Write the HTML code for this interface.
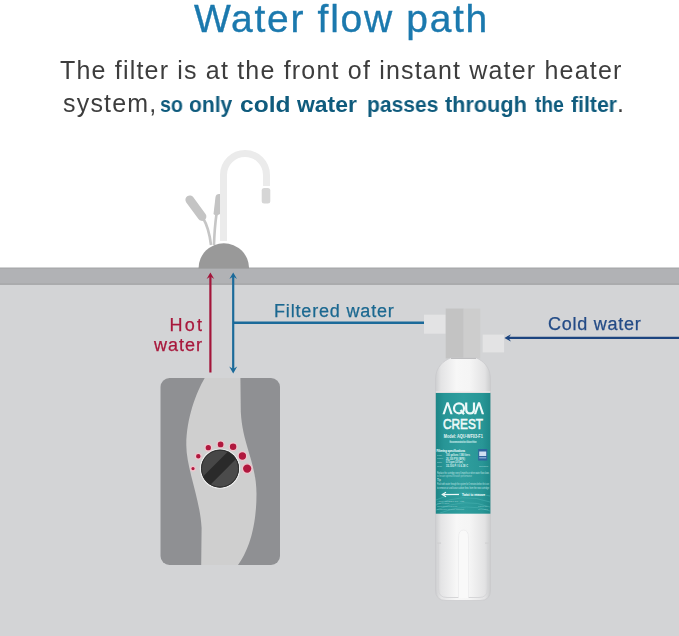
<!DOCTYPE html>
<html><head><meta charset="utf-8">
<style>
html,body{margin:0;padding:0;}
body{width:679px;height:636px;position:relative;overflow:hidden;background:#fff;font-family:"Liberation Sans",sans-serif;}
.t{position:absolute;white-space:nowrap;line-height:1;will-change:transform;}
#title{left:2px;width:679px;text-align:center;top:-1px;font-size:39px;color:#1b79ae;letter-spacing:1.7px;-webkit-text-stroke:0.35px #1b79ae;}
#l1{left:60px;top:58px;font-size:25px;color:#3d3d3d;letter-spacing:1.19px;}
#l2{left:63px;top:91px;font-size:25px;color:#3d3d3d;letter-spacing:1.19px;}
.bw{top:93.5px;font-size:22px;font-weight:bold;color:#0f5b7d;transform-origin:0 0;}
#l2p{left:617px;top:91px;font-size:25px;color:#3d3d3d;}
svg{position:absolute;left:0;top:0;}
.lab{font-size:18px;-webkit-text-stroke:0.25px currentColor;}
</style></head><body>
<svg width="679" height="636" viewBox="0 0 679 636">
  <rect x="0" y="268" width="679" height="17" fill="#b1b2b5"/>
  <rect x="0" y="267.5" width="679" height="1.2" fill="#a6a7a9"/>
  <rect x="0" y="283" width="679" height="2" fill="#aaabad"/>
  <rect x="0" y="285" width="679" height="351" fill="#d3d4d6"/>
  <!-- faucet spout -->
  <path d="M223.5 241 V175 A21.5 21.5 0 0 1 266.5 175 V186" fill="none" stroke="#ebebeb" stroke-width="7"/>
  <rect x="261.7" y="188" width="8.6" height="15.6" rx="2.5" fill="#d6d6d6"/>
  <!-- levers -->
  <path d="M203 218 Q209 228 211 245" fill="none" stroke="#c6c6c6" stroke-width="2.6"/>
  <path d="M189.8 199.8 L202 216.5" fill="none" stroke="#c4c4c4" stroke-width="8.8" stroke-linecap="round"/>
  <path d="M216.5 214 Q214.5 228 214 245" fill="none" stroke="#c6c6c6" stroke-width="2.6"/>
  <path d="M215.5 197 Q216 194 219 194 L220 194 L220 214 L216 216 L213.5 214 Z" fill="#c4c4c4"/>
  <!-- dome -->
  <path d="M198.5 268.5 A25.3 25.3 0 0 1 249.1 268.5 Z" fill="#999999"/>
  <!-- heater -->
  <rect x="160.5" y="378" width="119.5" height="187" rx="9" fill="#8f9093"/>
  <path d="M204.7 378 C196 393 186.5 418 186.3 445 C186.2 468 200 498 201.6 528 L201.2 565 L238 565 C247 553 256.5 530 256.5 494 C256.4 462 242.5 445 240.8 412 L240.4 378 Z" fill="#cfcfcf"/>
  <!-- knob -->
  <circle cx="220" cy="468.6" r="20.2" fill="#ececec"/>
  <clipPath id="kc"><circle cx="220" cy="468.6" r="18.9"/></clipPath>
  <g clip-path="url(#kc)">
    <rect x="200" y="448" width="40" height="42" fill="#474747"/>
    <path d="M184 511.1 L260 435.1 L270 440 L270 520 L184 520 Z" fill="#4b4b4b"/>
    <path d="M180 499.5 L256 423.5 L264 431.1 L188 507.1 Z" fill="#2a2a2a"/>
  </g>
  <circle cx="220" cy="468.6" r="18.5" fill="none" stroke="#2c2c2c" stroke-width="1"/>
  <!-- red dots -->
  <g fill="#b0183e" stroke="#f0c6ce" stroke-width="1.3">
    <circle cx="193" cy="468.6" r="2.3"/>
    <circle cx="198.3" cy="456.2" r="2.9"/>
    <circle cx="208.3" cy="447.7" r="3.3"/>
    <circle cx="220.6" cy="444.4" r="3.5"/>
    <circle cx="233.1" cy="446.8" r="3.9"/>
    <circle cx="242.4" cy="456" r="4.3"/>
    <circle cx="247.2" cy="468.6" r="4.8"/>
  </g>
  <!-- arrows -->
  <g stroke="#a3153a" fill="#a3153a">
    <line x1="210.4" y1="276" x2="210.4" y2="372.5" stroke-width="2.2"/>
    <path d="M206.6 279 L210.4 272.4 L214.2 279 L210.4 276.6 Z" stroke="none"/>
  </g>
  <g stroke="#1b6a9a" fill="#1b6a9a">
    <line x1="233.2" y1="276" x2="233.2" y2="369" stroke-width="2.2"/>
    <path d="M229.4 279 L233.2 272.4 L237 279 L233.2 276.6 Z" stroke="none"/>
    <path d="M229.2 366.5 L233.2 373.5 L237.2 366.5 L233.2 369 Z" stroke="none"/>
    <line x1="233.2" y1="322.8" x2="424" y2="322.8" stroke-width="2.4"/>
  </g>
  <g stroke="#1c447f" fill="#1c447f">
    <line x1="507" y1="337.9" x2="679" y2="337.9" stroke-width="2.1"/>
    <path d="M511 334.2 L504.4 337.9 L511 341.6 L508.6 337.9 Z" stroke="none"/>
  </g>
  <!-- filter head -->
  <rect x="424" y="314.7" width="21.7" height="19" fill="#e3e3e4"/>
  <rect x="482.7" y="334.6" width="21.4" height="17.8" fill="#e3e3e4"/>
  <rect x="445.7" y="308.5" width="18" height="50" fill="#c3c3c3"/>
  <rect x="463.7" y="308.5" width="16.6" height="50" fill="#cdcdcd"/>
  <defs>
    <linearGradient id="wb" x1="0" x2="1" y1="0" y2="0">
      <stop offset="0" stop-color="#cdced0"/>
      <stop offset="0.1" stop-color="#e4e4e5"/>
      <stop offset="0.38" stop-color="#f7f7f7"/>
      <stop offset="0.62" stop-color="#f5f5f5"/>
      <stop offset="0.9" stop-color="#e2e2e3"/>
      <stop offset="1" stop-color="#cbcccd"/>
    </linearGradient>
    <linearGradient id="tl" x1="0" x2="1" y1="0" y2="0">
      <stop offset="0" stop-color="#1d8586"/>
      <stop offset="0.15" stop-color="#279596"/>
      <stop offset="0.5" stop-color="#2f9e9e"/>
      <stop offset="0.85" stop-color="#289696"/>
      <stop offset="1" stop-color="#1e8788"/>
    </linearGradient>
  </defs>
  <path d="M450.5 358 L476.5 358 C482.5 360.5 490.5 367 490.5 379 L490.5 590 Q490.5 600.5 480 600.5 L446 600.5 Q435.5 600.5 435.5 590 L435.5 379 C435.5 367 444 360.5 450.5 358 Z" fill="url(#wb)" stroke="#c8c9cb" stroke-width="0.7"/>
  <path d="M451 358.5 L476 358.5" stroke="#bdbdbf" stroke-width="1"/>
  <!-- inner bottom outline & channel -->
  <path d="M438.5 543 L438.5 589 Q438.5 597.5 447 597.5 L479 597.5 Q487.5 597.5 487.5 589 L487.5 543" fill="none" stroke="#d6d6d8" stroke-width="1"/>
  <path d="M458.5 598 L458.5 538 Q458.5 530 463.5 530 Q468.5 530 468.5 538 L468.5 598" fill="#f9f9f9" stroke="#eaeaeb" stroke-width="0.7"/>
  <rect x="437" y="542.5" width="4" height="1.2" fill="#d0d0d2"/>
  <rect x="485" y="542.5" width="4" height="1.2" fill="#d0d0d2"/>
  <!-- label -->
  <rect x="435.8" y="392.7" width="54.6" height="121" fill="url(#tl)"/>
  <rect x="435.8" y="391.5" width="54.6" height="1.2" fill="#f4e6e6"/>
  <g fill="none" stroke="#49b3b2" stroke-width="0.8" opacity="0.7">
    <path d="M436 500 Q460 488 490 496"/>
    <path d="M436 505 Q462 492 490 502"/>
    <path d="M436 510 Q465 497 490 507"/>
    <path d="M440 513 Q468 502 490 511"/>
  </g>
  <!-- AQUA logo -->
  <g fill="none" stroke="#eef9f9" stroke-width="2.2" stroke-linejoin="miter">
    
    <circle cx="459" cy="408.3" r="5"/>
    <path d="M460.5 410 L464 414.3"/>
    <path d="M466.2 402.4 L466.2 409.2 Q466.2 413.4 470.1 413.4 Q474 413.4 474 409.2 L474 402.4"/>
    
  </g>
  <path d="M442.5 414.2 L446.6 402.3 L448.6 402.3 L452.7 414.2 L450.4 414.2 L447.6 405.6 L444.8 414.2 Z M473.9 414.2 L478 402.3 L480 402.3 L484.1 414.2 L481.8 414.2 L479 405.6 L476.2 414.2 Z" fill="#eef9f9"/>
  <text x="443" y="428.5" font-family="Liberation Sans" font-size="15" fill="#eef9f9" stroke="#eef9f9" stroke-width="0.6" textLength="40" lengthAdjust="spacingAndGlyphs">CREST</text>
  <text x="443.8" y="438.3" font-family="Liberation Sans" font-weight="bold" font-size="5" fill="#e6f6f6" textLength="39" lengthAdjust="spacingAndGlyphs">Model: AQU-WF03-F1</text>
  <rect x="449.6" y="441.3" width="27" height="1.4" fill="#8fd0d0" opacity="0.8"/>
  <g font-family="Liberation Sans" fill="#dff2f2">
    <text x="449.6" y="443" font-size="2.6" textLength="27" lengthAdjust="spacingAndGlyphs" opacity="0.8">Recommended for Water Filter</text>
    <text x="436.5" y="452.2" font-size="4.3" font-weight="bold" stroke="#dff2f2" stroke-width="0.15" textLength="28.5" lengthAdjust="spacingAndGlyphs">Filtering specifications</text>
    <text x="437" y="455.6" font-size="2.4" textLength="5" lengthAdjust="spacingAndGlyphs" opacity="0.7">Life</text>
    <text x="446" y="455.8" font-size="3.1" font-weight="bold" textLength="24" lengthAdjust="spacingAndGlyphs">100 gallons / 380 liters</text>
    <text x="437" y="459.3" font-size="2.4" textLength="6" lengthAdjust="spacingAndGlyphs" opacity="0.7">Pressure</text>
    <text x="446" y="459.5" font-size="3.1" font-weight="bold" textLength="19" lengthAdjust="spacingAndGlyphs">20-100 PSI (BFS)</text>
    <text x="437" y="463" font-size="2.4" textLength="5" lengthAdjust="spacingAndGlyphs" opacity="0.7">Rate</text>
    <text x="446" y="463.2" font-size="3.1" font-weight="bold" textLength="17" lengthAdjust="spacingAndGlyphs">0.75 gpm (2.8 lpm)</text>
    <text x="437" y="466.7" font-size="2.4" textLength="5" lengthAdjust="spacingAndGlyphs" opacity="0.7">Temp</text>
    <text x="446" y="466.9" font-size="3.1" font-weight="bold" textLength="22" lengthAdjust="spacingAndGlyphs">33-100 F / 0.6-38 C</text>
    <text x="479" y="466.8" font-size="2.4" textLength="9" lengthAdjust="spacingAndGlyphs" opacity="0.7">Replaces</text>
    <text x="437" y="473.7" font-size="2.8" textLength="52" lengthAdjust="spacingAndGlyphs" opacity="0.85">Replace the cartridge every 6 months or when water flow slows</text>
    <text x="437" y="477.4" font-size="2.6" textLength="35" lengthAdjust="spacingAndGlyphs" opacity="0.65">to ensure optimal filtration performance</text>
    <text x="437" y="481.3" font-size="2.6" font-weight="bold" textLength="4" lengthAdjust="spacingAndGlyphs" opacity="0.75">Tip</text>
    <text x="437" y="485.1" font-size="2.8" textLength="52" lengthAdjust="spacingAndGlyphs" opacity="0.85">Flush with water through the system for 5 minutes before first use</text>
    <text x="437" y="488.6" font-size="2.8" textLength="52" lengthAdjust="spacingAndGlyphs" opacity="0.85">to remove air and loose carbon fines from the new cartridge</text>
    <text x="462" y="496.2" font-size="3.9" font-weight="bold" stroke="#dff2f2" stroke-width="0.15" textLength="23" lengthAdjust="spacingAndGlyphs">Twist to remove</text>
    <text x="437" y="501.8" font-size="2.3" textLength="27" lengthAdjust="spacingAndGlyphs" opacity="0.6">AQUACREST Co., Ltd</text>
    <text x="437" y="504.4" font-size="2.2" textLength="12" lengthAdjust="spacingAndGlyphs" opacity="0.55">Made in China</text>
    <text x="437" y="507" font-size="2.2" textLength="20" lengthAdjust="spacingAndGlyphs" opacity="0.55">www.aquacrest.com</text>
    <text x="437" y="509.8" font-size="2.2" textLength="27" lengthAdjust="spacingAndGlyphs" opacity="0.55">Customer service support</text>
    <text x="478" y="507" font-size="2.2" textLength="10" lengthAdjust="spacingAndGlyphs" opacity="0.5">Patent No.</text>
    <text x="478" y="509.8" font-size="2.2" textLength="10" lengthAdjust="spacingAndGlyphs" opacity="0.5">IPX4 rated</text>
  </g>
  <path d="M459 494.5 L443.5 494.5" stroke="#eef8f8" stroke-width="1.2"/>
  <path d="M446 492.3 L442.3 494.5 L446 496.7" fill="none" stroke="#eef8f8" stroke-width="1.2"/>
  <!-- badge -->
  <rect x="478.2" y="449" width="9" height="11.5" fill="#2f5f9e" opacity="0.9"/>
  <rect x="479.2" y="451.5" width="7" height="4.5" fill="#cfe0f2"/>
  <rect x="479.2" y="457" width="7" height="1.5" fill="#7fa4cf"/>
</svg>
<div class="t" id="title">Water flow path</div>
<div class="t" id="l1">The filter is at the front of instant water heater</div>
<div class="t" id="l2">system,</div>
<div class="t bw" style="left:160.3px;transform:scaleX(0.892);">so</div>
<div class="t bw" style="left:189.3px;transform:scaleX(0.955);">only</div>
<div class="t bw" style="left:240.0px;transform:scaleX(1.116);">cold</div>
<div class="t bw" style="left:296.8px;transform:scaleX(1.042);">water</div>
<div class="t bw" style="left:367.0px;transform:scaleX(0.955);">passes</div>
<div class="t bw" style="left:445.0px;transform:scaleX(0.984);">through</div>
<div class="t bw" style="left:534.6px;transform:scaleX(0.872);">the</div>
<div class="t bw" style="left:570.8px;transform:scaleX(0.966);">filter</div>
<div class="t" id="l2p">.</div>
<div class="t lab" style="left:274px;top:302px;color:#1b6890;letter-spacing:0.83px;">Filtered water</div>
<div class="t lab" style="left:547.5px;top:314.5px;color:#234b86;letter-spacing:0.75px;">Cold water</div>
<div class="t lab" style="left:120px;width:83px;text-align:right;top:315px;color:#a8183c;letter-spacing:1px;line-height:20px;"><span style="letter-spacing:2.3px;margin-right:-1.3px;">Hot</span><br>water</div>
</body></html>
